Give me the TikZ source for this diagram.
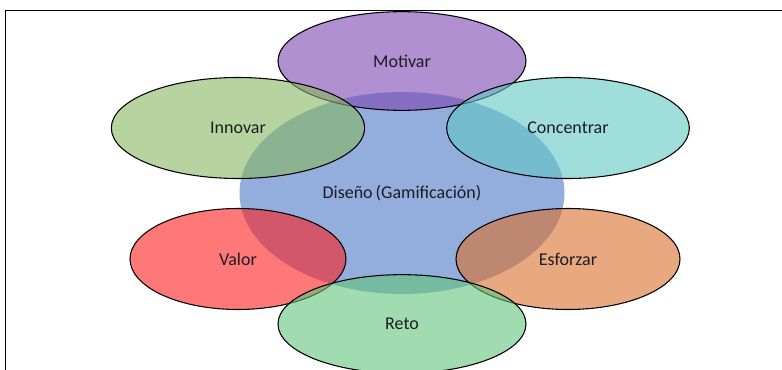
\documentclass[tikz,border=0pt]{standalone}
\usepackage{fontspec}
\setmainfont{Carlito}
\usetikzlibrary{shapes.geometric}

\definecolor{cdiseno}{RGB}{147,173,221}
\definecolor{cmotivar}{RGB}{123,70,177}
\definecolor{cinnovar}{RGB}{135,183,97}
\definecolor{cconcentrar}{RGB}{97,200,197}
\definecolor{cvalor}{RGB}{255,30,30}
\definecolor{cesforzar}{RGB}{217,110,43}
\definecolor{creto}{RGB}{97,197,122}
\definecolor{ctext}{RGB}{30,28,36}

\begin{document}
\begin{tikzpicture}[x=0.75pt,y=-0.75pt,
  petal/.style={ellipse, draw=black, line width=0.8pt, fill opacity=0.6,
    text opacity=1, inner sep=0pt, minimum height=75.75pt, text=ctext,
    font=\fontsize{13.5}{16}\selectfont},
  core/.style={ellipse, fill=cdiseno, inner sep=0pt, text=ctext,
    font=\fontsize{13.5}{16}\selectfont}]

\useasboundingbox (0,0) rectangle (782,370);
\draw[line width=1.4pt] (5.5,371) -- (5.5,10.5) -- (783,10.5);

\node[core, minimum width=243.75pt, minimum height=151.5pt](diseno) at (402,193) {Diseño\,(Gamificación)};

\node[petal, fill=cmotivar, minimum width=186pt, minimum height=74pt](motivar) at (402,61) {Motivar};
\node[petal, fill=cinnovar, minimum width=190pt](innovar) at (238,128) {Innovar};
\node[petal, fill=cconcentrar, minimum width=182pt](concentrar) at (568,128) {Concentrar};
\node[petal, fill=cvalor, minimum width=162pt](valor) at (238,259) {Valor};
\node[petal, fill=cesforzar, minimum width=168pt](esforzar) at (568,259) {Esforzar};
\node[petal, fill=creto, minimum width=186pt, minimum height=74pt](reto) at (402,324) {Reto};

\end{tikzpicture}
\end{document}
